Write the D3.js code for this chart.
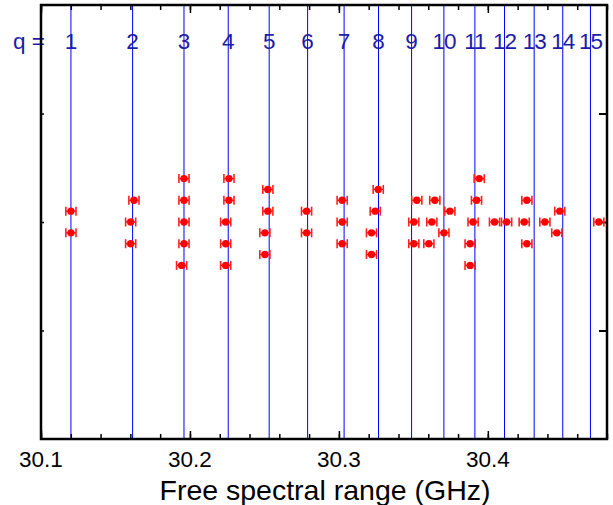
<!DOCTYPE html>
<html>
<head>
<meta charset="utf-8">
<script src="https://cdn.jsdelivr.net/npm/d3@7"></script>
<style>
  body { margin: 0; background: #fff; }
  svg { display: block; }
  text { font-family: "Liberation Sans", Arial, sans-serif; }
</style>
</head>
<body>
<svg id="chart" width="613" height="505"></svg>
<script>
// mode numbers and their free spectral range (blue lines)
let q_labels = [1, 2, 3, 4, 5, 6, 7, 8, 9, 10, 11, 12, 13, 14, 15];
let q_fsr = [30.1201, 30.1615, 30.1960, 30.2257, 30.2532, 30.2790, 30.3035, 30.3266,
  30.3488, 30.3705, 30.3913, 30.4112, 30.4311, 30.4503, 30.4689];

// measured points: fsr (GHz) and vertical level (arbitrary)
let point_fsr = [
  30.1201, 30.1201,
  30.1624, 30.1602, 30.1602,
  30.1960, 30.1960, 30.1960, 30.1960, 30.1944,
  30.2262, 30.2262, 30.2240, 30.2240, 30.2240,
  30.2523, 30.2523, 30.2503, 30.2503,
  30.2783, 30.2783,
  30.3022, 30.3022, 30.3022,
  30.3264, 30.3244, 30.3219, 30.3219,
  30.3523, 30.3503, 30.3503,
  30.3644, 30.3624, 30.3604,
  30.3745, 30.3705,
  30.3942, 30.3924, 30.3901, 30.3881, 30.3881,
  30.4045, 30.4126,
  30.4262, 30.4244, 30.4262,
  30.4383,
  30.4483, 30.4463,
  30.4745
];
let point_level = [
  2.1, 1.9,
  2.2, 2.0, 1.8,
  2.4, 2.2, 2.0, 1.8, 1.6,
  2.4, 2.2, 2.0, 1.8, 1.6,
  2.3, 2.1, 1.9, 1.7,
  2.1, 1.9,
  2.2, 2.0, 1.8,
  2.3, 2.1, 1.9, 1.7,
  2.2, 2.0, 1.8,
  2.2, 2.0, 1.8,
  2.1, 1.9,
  2.4, 2.2, 2.0, 1.8, 1.6,
  2.0, 2.0,
  2.2, 2.0, 1.8,
  2.0,
  2.1, 1.9,
  2.0
];
let fsr_error = 0.0034;

let x_ticks = [30.1, 30.2, 30.3, 30.4];
let y_ticks = [1, 2, 3];

let svg = d3.select('#chart');
let plot_left = 41, plot_right = 607, plot_top = 5, plot_bottom = 439;

let x = d3.scaleLinear().domain([30.1, 30.48]).range([plot_left, plot_right]);
let y = d3.scaleLinear().domain([0, 4]).range([plot_bottom, plot_top]);

let minor_ticks = d3.range(30.1, 30.481, 0.02).map(d => +d.toFixed(2));

// blue q lines
svg.append('g').attr('class', 'q_lines')
  .selectAll('line').data(q_fsr).enter().append('line')
  .attr('x1', d => x(d)).attr('x2', d => x(d))
  .attr('y1', plot_top).attr('y2', plot_bottom)
  .attr('stroke', '#0000ff').attr('stroke-width', 1);

// q labels
let q_color = '#1c1ca6';
svg.append('text').attr('x', 29).attr('y', 48.5).attr('text-anchor', 'middle')
  .attr('font-size', 22.5).attr('fill', q_color).text('q =');
svg.append('g').attr('class', 'q_labels')
  .selectAll('text').data(q_labels).enter().append('text')
  .attr('x', (d, i) => x(q_fsr[i])).attr('y', 48.5)
  .attr('text-anchor', 'middle').attr('font-size', 22.5).attr('fill', q_color)
  .attr('letter-spacing', d => d > 9 ? -1 : 0)
  .text(d => d);

// axes (ticks pointing inward)
let gBottom = svg.append('g').attr('transform', 'translate(0,' + plot_bottom + ')');
gBottom.call(d3.axisTop(x).tickValues(minor_ticks).tickSize(5).tickFormat(''));
gBottom.append('g').call(d3.axisTop(x).tickValues(x_ticks).tickSize(8).tickFormat(''));
gBottom.selectAll('.domain').remove();
gBottom.selectAll('.tick line').attr('stroke', '#000').attr('stroke-width', 1.5);

let gTop = svg.append('g').attr('transform', 'translate(0,' + plot_top + ')');
gTop.call(d3.axisBottom(x).tickValues(minor_ticks).tickSize(5).tickFormat(''));
gTop.append('g').call(d3.axisBottom(x).tickValues(x_ticks).tickSize(8).tickFormat(''));
gTop.selectAll('.domain').remove();
gTop.selectAll('.tick line').attr('stroke', '#000').attr('stroke-width', 1.5);

let gLeft = svg.append('g').attr('transform', 'translate(' + plot_left + ',0)');
gLeft.call(d3.axisRight(y).tickValues(y_ticks).tickSize(3).tickFormat(''));
gLeft.selectAll('.domain').remove();
gLeft.selectAll('.tick line').attr('stroke', '#000').attr('stroke-width', 1.5);

let gRight = svg.append('g').attr('transform', 'translate(' + plot_right + ',0)');
gRight.call(d3.axisLeft(y).tickValues(y_ticks).tickSize(8).tickFormat(''));
gRight.selectAll('.domain').remove();
gRight.selectAll('.tick line').attr('stroke', '#000').attr('stroke-width', 2);

// frame
svg.append('rect').attr('x', plot_left).attr('y', plot_top)
  .attr('width', plot_right - plot_left).attr('height', plot_bottom - plot_top)
  .attr('fill', 'none').attr('stroke', '#000').attr('stroke-width', 2.5);

// tick labels
svg.append('g').selectAll('text').data(x_ticks).enter().append('text')
  .attr('x', d => x(d)).attr('y', 466.5)
  .attr('text-anchor', 'middle').attr('font-size', 22.5).attr('fill', '#000')
  .text(d => d.toFixed(1));

svg.append('text').attr('x', 325).attr('y', 500)
  .attr('text-anchor', 'middle').attr('font-size', 28.5).attr('fill', '#000')
  .text('Free spectral range (GHz)');

// error bars and points
let points = point_fsr.map((d, i) => ({fsr: d, level: point_level[i]}));
let pg = svg.append('g').attr('class', 'points')
  .selectAll('g').data(points).enter().append('g')
  .attr('transform', d => 'translate(' + x(d.fsr) + ',' + y(d.level) + ')');
pg.append('line')
  .attr('x1', d => x(d.fsr - fsr_error) - x(d.fsr)).attr('x2', d => x(d.fsr + fsr_error) - x(d.fsr))
  .attr('stroke', '#ff0000').attr('stroke-width', 1.3);
pg.selectAll('.cap').data(d => [d.fsr - fsr_error, d.fsr + fsr_error].map(v => x(v) - x(d.fsr)))
  .enter().append('line').attr('class', 'cap')
  .attr('x1', d => d).attr('x2', d => d).attr('y1', -4.5).attr('y2', 4.5)
  .attr('stroke', '#ff2020').attr('stroke-width', 1.6);
pg.append('circle').attr('r', 3.7).attr('fill', '#ff0000');
</script>
</body>
</html>
